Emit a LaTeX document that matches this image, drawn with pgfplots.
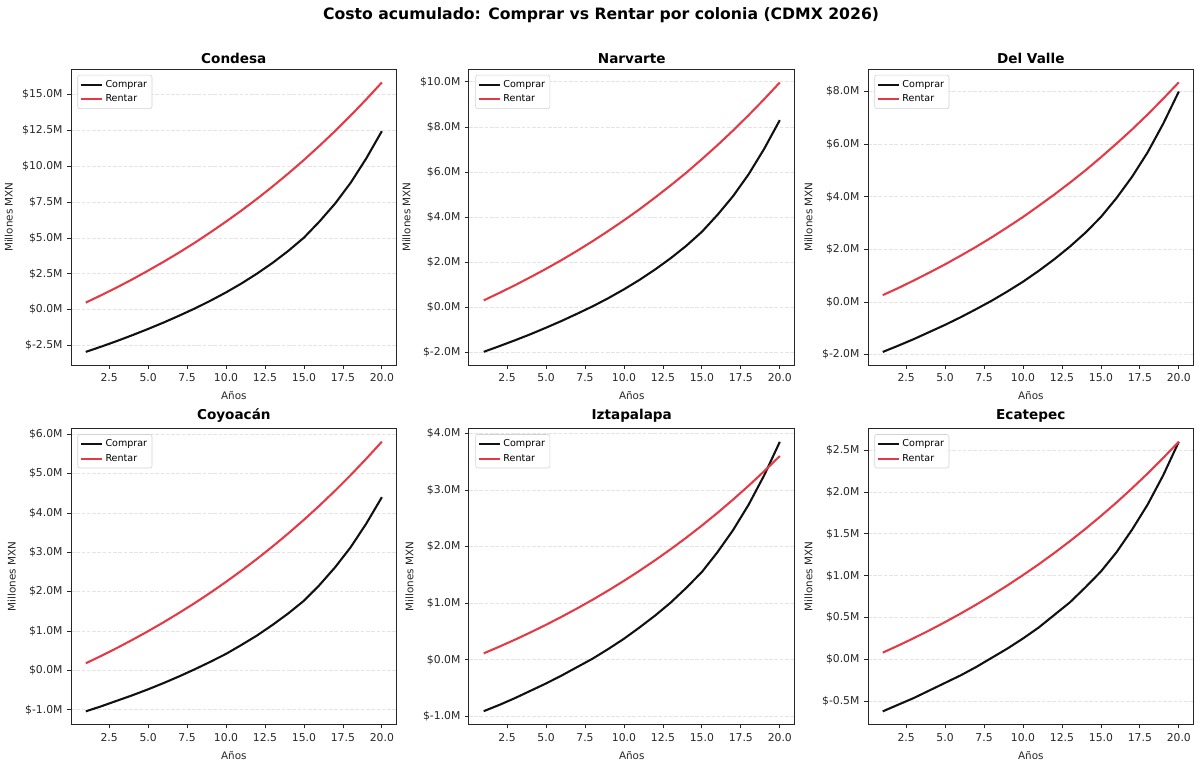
\documentclass[border=0pt]{standalone}
\usepackage{fontspec}
\setmainfont{DejaVu Sans}
\usepackage{pgfplots}
\usepackage{pgfplotstable}
\pgfplotsset{compat=1.18}
\definecolor{buy}{HTML}{111111}
\definecolor{rent}{HTML}{E63946}
\definecolor{gridc}{HTML}{E4E4E4}

\pgfplotstableread{
t buy rent
1 -2.95 0.49
2 -2.58 1.01
3 -2.19 1.55
4 -1.78 2.12
5 -1.35 2.72
6 -0.90 3.34
7 -0.42 3.99
8 0.08 4.67
9 0.62 5.39
10 1.20 6.14
11 1.83 6.92
12 2.52 7.74
13 3.27 8.60
14 4.10 9.50
15 5.02 10.44
16 6.15 11.43
17 7.40 12.46
18 8.85 13.54
19 10.55 14.67
20 12.45 15.85
}\condesa

\pgfplotstableread{
t buy rent
1 -1.97 0.31
2 -1.72 0.64
3 -1.46 0.98
4 -1.19 1.34
5 -0.90 1.71
6 -0.60 2.10
7 -0.28 2.51
8 0.05 2.94
9 0.41 3.39
10 0.80 3.86
11 1.22 4.35
12 1.68 4.87
13 2.18 5.41
14 2.73 5.97
15 3.35 6.57
16 4.10 7.19
17 4.93 7.84
18 5.90 8.52
19 7.03 9.23
20 8.30 9.97
}\narvarte

\pgfplotstableread{
t buy rent
1 -1.90 0.26
2 -1.66 0.53
3 -1.41 0.82
4 -1.14 1.12
5 -0.87 1.43
6 -0.58 1.76
7 -0.27 2.10
8 0.05 2.46
9 0.40 2.84
10 0.77 3.23
11 1.18 3.65
12 1.62 4.08
13 2.10 4.53
14 2.63 5.00
15 3.23 5.50
16 3.95 6.02
17 4.76 6.56
18 5.69 7.13
19 6.78 7.73
20 8.00 8.35
}\delvalle

\pgfplotstableread{
t buy rent
1 -1.04 0.181
2 -0.91 0.371
3 -0.77 0.570
4 -0.63 0.779
5 -0.48 0.996
6 -0.32 1.225
7 -0.15 1.464
8 0.03 1.713
9 0.22 1.975
10 0.42 2.250
11 0.65 2.537
12 0.89 2.837
13 1.16 3.152
14 1.45 3.482
15 1.77 3.827
16 2.17 4.188
17 2.62 4.567
18 3.13 4.963
19 3.73 5.378
20 4.40 5.810
}\coyoacan

\pgfplotstableread{
t buy rent
1 -0.91 0.112
2 -0.80 0.230
3 -0.68 0.353
4 -0.55 0.482
5 -0.42 0.617
6 -0.28 0.759
7 -0.13 0.907
8 0.02 1.062
9 0.19 1.224
10 0.37 1.394
11 0.57 1.572
12 0.78 1.758
13 1.01 1.953
14 1.27 2.157
15 1.55 2.371
16 1.90 2.595
17 2.29 2.830
18 2.74 3.075
19 3.26 3.332
20 3.85 3.600
}\iztapalapa

\pgfplotstableread{
t buy rent
1 -0.62 0.081
2 -0.54 0.166
3 -0.46 0.255
4 -0.37 0.348
5 -0.28 0.446
6 -0.19 0.548
7 -0.09 0.655
8 0.02 0.767
9 0.13 0.884
10 0.25 1.007
11 0.38 1.135
12 0.53 1.270
13 0.68 1.411
14 0.86 1.558
15 1.05 1.713
16 1.28 1.874
17 1.55 2.044
18 1.85 2.221
19 2.20 2.407
20 2.60 2.600
}\ecatepec

\pgfplotsset{panel/.style={
  width=234.9pt, height=213.8pt, scale only axis,
  anchor=south west,
  xmin=0.05, xmax=20.95,
  xtick={2.5,5,7.5,10,12.5,15,17.5,20},
  xticklabels={2.5,5.0,7.5,10.0,12.5,15.0,17.5,20.0},
  xtick pos=bottom, ytick pos=left, tick align=outside,
  major tick length=2.6pt,
  tick style={black!85, line width=0.55pt},
  axis line style={black!85, line width=0.6pt},
  ymajorgrids, grid style={gridc, dash pattern=on 2.6pt off 1.2pt, line width=0.5pt},
  tick label style={font=\fontsize{7.8}{9.3}\selectfont, text=black!85},
  label style={font=\fontsize{7.5}{9}\selectfont, text=black!85},
  xlabel={Años}, ylabel={Millones MXN},
  title style={font=\bfseries\fontsize{9.8}{11.7}\selectfont, yshift=-5.5pt},
  legend style={at={(0.02,0.98)}, anchor=north west, font=\fontsize{6.9}{8.2}\selectfont, draw=gray!35, rounded corners=1.5pt, inner sep=1.5pt},
  legend cell align=left,
  legend image code/.code={\draw[##1] (0pt,0pt) -- (15pt,0pt);},
}}

\begin{document}
\begin{tikzpicture}
\path (0,0) rectangle (864pt,551.52pt);
\node[font=\bfseries\fontsize{11.3}{13.5}\selectfont] at (432pt,540.5pt) {Costo acumulado: Comprar vs Rentar por colonia (CDMX 2026)};

\begin{axis}[panel, at={(49.7pt,288pt)}, title={Condesa},
  ymin=-3.89, ymax=16.79, ytick={-2.5,0,2.5,5,7.5,10,12.5,15},
  yticklabels={\$-2.5M,\$0.0M,\$2.5M,\$5.0M,\$7.5M,\$10.0M,\$12.5M,\$15.0M}]
\addplot[buy, line width=1.5pt, mark=none] table[x=t,y=buy] {\condesa};
\addplot[rent, line width=1.5pt, mark=none] table[x=t,y=rent] {\condesa};
\legend{Comprar,Rentar}
\end{axis}

\begin{axis}[panel, at={(336.7pt,288pt)}, title={Narvarte},
  ymin=-2.57, ymax=10.57, ytick={-2,0,2,4,6,8,10},
  yticklabels={\$-2.0M,\$0.0M,\$2.0M,\$4.0M,\$6.0M,\$8.0M,\$10.0M}]
\addplot[buy, line width=1.5pt, mark=none] table[x=t,y=buy] {\narvarte};
\addplot[rent, line width=1.5pt, mark=none] table[x=t,y=rent] {\narvarte};
\legend{Comprar,Rentar}
\end{axis}

\begin{axis}[panel, at={(624.5pt,288pt)}, title={Del Valle},
  ymin=-2.41, ymax=8.86, ytick={-2,0,2,4,6,8},
  yticklabels={\$-2.0M,\$0.0M,\$2.0M,\$4.0M,\$6.0M,\$8.0M}]
\addplot[buy, line width=1.5pt, mark=none] table[x=t,y=buy] {\delvalle};
\addplot[rent, line width=1.5pt, mark=none] table[x=t,y=rent] {\delvalle};
\legend{Comprar,Rentar}
\end{axis}

\begin{axis}[panel, at={(49.7pt,28.8pt)}, title={Coyoacán},
  ymin=-1.38, ymax=6.15, ytick={-1,0,1,2,3,4,5,6},
  yticklabels={\$-1.0M,\$0.0M,\$1.0M,\$2.0M,\$3.0M,\$4.0M,\$5.0M,\$6.0M}]
\addplot[buy, line width=1.5pt, mark=none] table[x=t,y=buy] {\coyoacan};
\addplot[rent, line width=1.5pt, mark=none] table[x=t,y=rent] {\coyoacan};
\legend{Comprar,Rentar}
\end{axis}

\begin{axis}[panel, at={(336.7pt,28.8pt)}, title={Iztapalapa},
  ymin=-1.15, ymax=4.09, ytick={-1,0,1,2,3,4},
  yticklabels={\$-1.0M,\$0.0M,\$1.0M,\$2.0M,\$3.0M,\$4.0M}]
\addplot[buy, line width=1.5pt, mark=none] table[x=t,y=buy] {\iztapalapa};
\addplot[rent, line width=1.5pt, mark=none] table[x=t,y=rent] {\iztapalapa};
\legend{Comprar,Rentar}
\end{axis}

\begin{axis}[panel, at={(624.5pt,28.8pt)}, title={Ecatepec},
  ymin=-0.78, ymax=2.76, ytick={-0.5,0,0.5,1,1.5,2,2.5},
  yticklabels={\$-0.5M,\$0.0M,\$0.5M,\$1.0M,\$1.5M,\$2.0M,\$2.5M}]
\addplot[buy, line width=1.5pt, mark=none] table[x=t,y=buy] {\ecatepec};
\addplot[rent, line width=1.5pt, mark=none] table[x=t,y=rent] {\ecatepec};
\legend{Comprar,Rentar}
\end{axis}
\end{tikzpicture}
\end{document}
